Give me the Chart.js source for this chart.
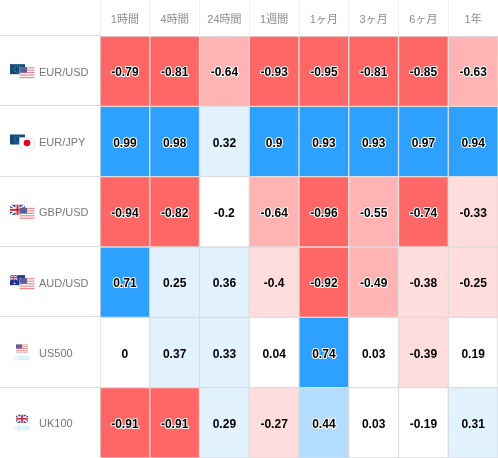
<!DOCTYPE html>
<html>
<head>
<meta charset="utf-8">
<style>
html,body{margin:0;padding:0;background:#fff}
#wrap{position:relative;width:498px;height:458px}
</style>
<script src="https://cdn.jsdelivr.net/npm/chart.js@4"></script>
</head>
<body>
<div id="wrap"><canvas id="heat"></canvas></div>
<script>
const periods = ["1時間","4時間","24時間","1週間","1ヶ月","3ヶ月","6ヶ月","1年"];
const pairs = ["EUR/USD","EUR/JPY","GBP/USD","AUD/USD","US500","UK100"];
const flags = [["eu","us"],["eu","jp"],["gb","us"],["au","us"],["us"],["gb"]];

const eurUsd = [-0.79,-0.81,-0.64,-0.93,-0.95,-0.81,-0.85,-0.63];
const eurJpy = [0.99,0.98,0.32,0.9,0.93,0.93,0.97,0.94];
const gbpUsd = [-0.94,-0.82,-0.2,-0.64,-0.96,-0.55,-0.74,-0.33];
const audUsd = [0.71,0.25,0.36,-0.4,-0.92,-0.49,-0.38,-0.25];
const us500 = [0,0.37,0.33,0.04,0.74,0.03,-0.39,0.19];
const uk100 = [-0.91,-0.91,0.29,-0.27,0.44,0.03,-0.19,0.31];
const rows = [eurUsd,eurJpy,gbpUsd,audUsd,us500,uk100];

function cellColor(v){
	if(v <= -0.7) return "#ff6666";
	if(v < -0.4) return "#ffb3b3";
	if(v < -0.2) return "#ffdddd";
	if(v === -0.2) return "#ffffff";
	if(v <= 0.2) return "#ffffff";
	if(v <= 0.4) return "#e3f2ff";
	if(v < 0.7) return "#b3dcff";
	return "#2ea1ff";
}

//Una barra flottante per ogni cella
const datasets = rows.map((row,r) => ({
	label: pairs[r],
	data: row.map(() => [r,r+1]),
	values: row,
	backgroundColor: row.map(cellColor),
	borderColor: "#dddddd",
	borderWidth: 1,
	borderSkipped: false,
	barPercentage: 1,
	categoryPercentage: 1,
	grouped: false
}));

function drawEu(c,x,y,w,h){
	c.fillStyle = "#0f4c7a"; c.fillRect(x,y,w,h);
	c.fillStyle = "#8f9a4a";
	for(let a=0;a<8;a++){
		c.fillRect(x+w/2+Math.cos(a*0.785)*h*0.32-0.5,y+h/2+Math.sin(a*0.785)*h*0.32-0.5,1,1);
	}
}
function drawUs(c,x,y,w,h){
	c.fillStyle = "#ffffff"; c.fillRect(x,y,w,h);
	c.fillStyle = "#e88a8f";
	for(let i=0;i<5;i++) c.fillRect(x,y+i*h/4.5,w,h/9);
	c.fillStyle = "#5a5f95"; c.fillRect(x,y,w*0.5,h*0.5);
}
function drawJp(c,x,y,w,h){
	c.fillStyle = "#ffffff"; c.fillRect(x,y,w,h);
	c.strokeStyle = "#e6e6e6"; c.lineWidth = 1; c.strokeRect(x+0.5,y+0.5,w-1,h-1);
	c.fillStyle = "#e8001c"; c.beginPath(); c.arc(x+w/2,y+h/2,h*0.3,0,Math.PI*2); c.fill();
}
function drawGb(c,x,y,w,h){
	c.fillStyle = "#2f3f8f"; c.fillRect(x,y,w,h);
	c.strokeStyle = "#ffffff"; c.lineWidth = h*0.16;
	c.beginPath(); c.moveTo(x,y); c.lineTo(x+w,y+h); c.moveTo(x+w,y); c.lineTo(x,y+h); c.stroke();
	c.fillStyle = "#ffffff"; c.fillRect(x+w/2-h*0.2,y,h*0.4,h); c.fillRect(x,y+h*0.3,w,h*0.4);
	c.fillStyle = "#d0233a"; c.fillRect(x+w/2-h*0.1,y,h*0.2,h); c.fillRect(x,y+h*0.4,w,h*0.2);
}
function drawAu(c,x,y,w,h){
	c.fillStyle = "#20308f"; c.fillRect(x,y,w,h);
	drawGb(c,x,y,w/2,h/2);
	c.fillStyle = "#ffffff";
	[[0.7,0.25],[0.85,0.5],[0.6,0.6],[0.72,0.8],[0.25,0.75]].forEach(p => c.fillRect(x+w*p[0],y+h*p[1],1.5,1.5));
}
const painters = {eu:drawEu,us:drawUs,jp:drawJp,gb:drawGb,au:drawAu};

//Bandiere e nomi a sinistra, valori dentro le celle
const cellText = {
	id: "cellText",
	afterDatasetsDraw(chart){
		const c = chart.ctx;
		c.save();
		chart.data.datasets.forEach((ds,i) => {
			chart.getDatasetMeta(i).data.forEach((bar,j) => {
				const v = ds.values[j];
				const txt = String(v);
				const y = bar.y + (bar.base-bar.y)/2 + 2;
				c.font = "bold 12px 'Liberation Sans', Arial, sans-serif";
				c.textAlign = "center";
				c.textBaseline = "middle";
				if(Math.abs(v) > 0.4){
					c.strokeStyle = "#ffffff";
					c.lineWidth = 2;
					c.lineJoin = "round";
					c.strokeText(txt,bar.x,y);
				}
				c.fillStyle = "#000000";
				c.fillText(txt,bar.x,y);
			});
		});
		const yScale = chart.scales.y;
		pairs.forEach((name,r) => {
			const cy = (yScale.getPixelForValue(r)+yScale.getPixelForValue(r+1))/2;
			c.font = "11px 'Liberation Sans', Arial, sans-serif";
			c.fillStyle = "#777777";
			c.textAlign = "left";
			c.textBaseline = "middle";
			c.fillText(name,39,cy+1.5);
			const f = flags[r];
			if(f.length === 2){
				painters[f[0]](c,10,cy-7,15,10);
				painters[f[1]](c,19.5,cy-4,15,11);
			}else{
				painters[f[0]](c,16,cy-8,12,8);
				c.font = "5px 'Liberation Sans', Arial, sans-serif";
				c.fillStyle = "#9fe3f5";
				c.textAlign = "center";
				c.fillText(name,22,cy+6);
			}
			c.fillStyle = "#dddddd";
			c.fillRect(0,Math.round(yScale.getPixelForValue(r))-1,chart.chartArea.left,1);
		});
		c.restore();
	}
};

new Chart(document.getElementById("heat"),{
	type: "bar",
	data: {labels: periods, datasets: datasets},
	plugins: [cellText],
	options: {
		responsive: true,
		maintainAspectRatio: false,
		animation: false,
		layout: {padding: 0},
		plugins: {legend: {display:false}, tooltip: {enabled:false}},
		scales: {
			x: {
				position: "top",
				offset: true,
				afterFit(s){ s.height = 36; },
				grid: {color:"#f0f0f0", drawTicks:true, tickLength:36, offset:true},
				border: {display:false},
				ticks: {
					color: "#8c8c8c",
					font: {size:11, family:"'Liberation Sans','Noto Sans CJK JP',sans-serif"},
					maxRotation: 0,
					padding: -27
				}
			},
			y: {
				reverse: true,
				min: 0,
				max: rows.length,
				afterFit(s){ s.width = 100; },
				grid: {display:false},
				border: {display:false},
				ticks: {display:false}
			}
		}
	}
});
</script>
</body>
</html>
